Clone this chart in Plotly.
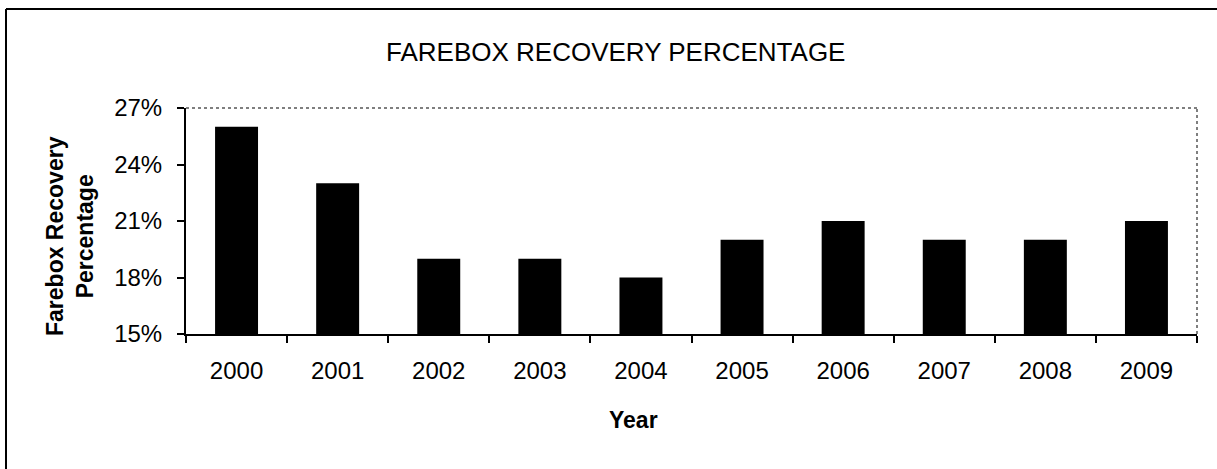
import plotly.graph_objects as go

years = ["2000", "2001", "2002", "2003", "2004", "2005", "2006", "2007", "2008", "2009"]
recovery_pct = [26, 23, 19, 19, 18, 20, 21, 20, 20, 21]
y_ticks = [15, 18, 21, 24, 27]
y_tick_labels = ["15%", "18%", "21%", "24%", "27%"]

W, H = 1217, 469
L, R, T, B = 186, 20, 108, 135
pw, ph = W - L - R, H - T - B

def px(x):
    return (x - L) / pw

def py(y):
    return (H - B - y) / ph

FONT = "Liberation Sans, Arial, sans-serif"

fig = go.Figure(go.Bar(x=years, y=recovery_pct, marker=dict(color="black", line=dict(width=0))))

fig.update_layout(
    width=W, height=H,
    margin=dict(l=L, r=R, t=T, b=B),
    paper_bgcolor="white", plot_bgcolor="white",
    bargap=0.575,
    showlegend=False,
    font=dict(family=FONT, color="black"),
)
fig.update_xaxes(
    type="category", showline=True, linecolor="black", linewidth=2,
    ticks="outside", tickson="boundaries", ticklen=7, tickwidth=1.5, tickcolor="black",
    tickfont=dict(size=24, family=FONT), ticklabelstandoff=14, showgrid=False,
)
fig.update_yaxes(
    range=[15, 27], tickvals=y_ticks, ticktext=y_tick_labels,
    showline=True, linecolor="black", linewidth=2,
    ticks="outside", ticklen=7, tickwidth=1.5, tickcolor="black",
    tickfont=dict(size=24, family=FONT), ticklabelstandoff=10, showgrid=False, zeroline=False,
)

shapes = [
    # dotted top and right plot borders
    dict(type="line", xref="paper", yref="paper", x0=0, x1=1, y0=1, y1=1,
         line=dict(color="#555", width=1.5, dash="dot")),
    dict(type="line", xref="paper", yref="paper", x0=1, x1=1, y0=0, y1=1,
         line=dict(color="#555", width=1.5, dash="dot")),
    # outer frame
    dict(type="line", xref="paper", yref="paper", x0=px(6), x1=px(6), y0=py(9), y1=py(480),
         line=dict(color="black", width=2)),
    dict(type="line", xref="paper", yref="paper", x0=px(6), x1=px(1230), y0=py(9), y1=py(9),
         line=dict(color="black", width=2)),
]
fig.update_layout(shapes=shapes)

annotations = [
    dict(text="FAREBOX RECOVERY PERCENTAGE", xref="paper", yref="paper", x=px(615), y=py(52),
         showarrow=False, font=dict(size=26, family=FONT), xanchor="center", yanchor="middle"),
    dict(text="<b>Year</b>", xref="paper", yref="paper", x=px(633), y=py(420),
         showarrow=False, font=dict(size=23, family=FONT), xanchor="center", yanchor="middle"),
    dict(text="<b>Farebox Recovery<br>Percentage</b>", xref="paper", yref="paper", x=px(70), y=py(236),
         showarrow=False, textangle=-90, font=dict(size=23, family=FONT),
         xanchor="center", yanchor="middle"),
]
fig.update_layout(annotations=annotations)

fig.write_html("out.html")
